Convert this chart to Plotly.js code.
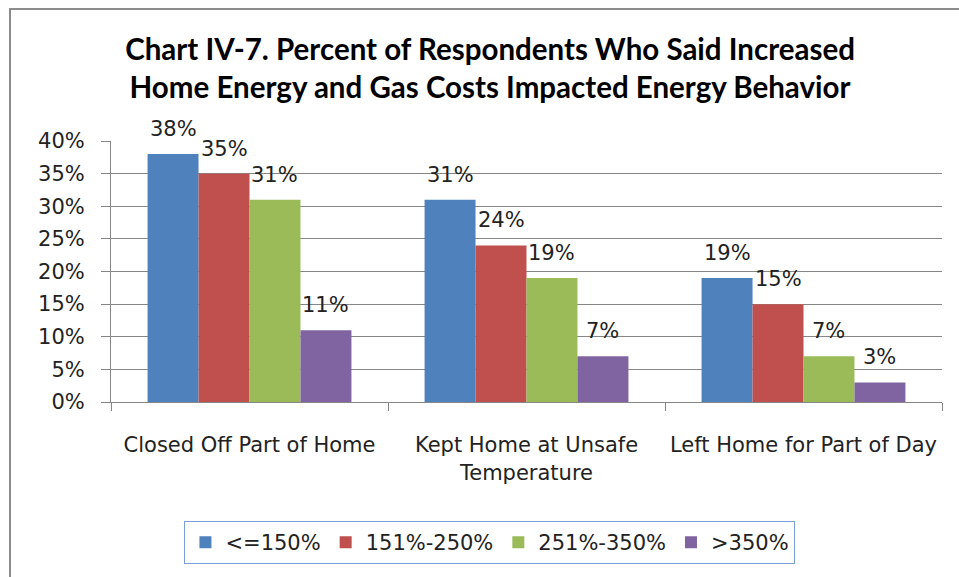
<!DOCTYPE html>
<html>
<head>
<meta charset="utf-8">
<script src="https://cdn.plot.ly/plotly-3.0.1.min.js"></script>
<style>
html,body{margin:0;padding:0;background:#fff;overflow:hidden;}
#wrap{position:relative;width:959px;height:577px;overflow:hidden;}
#chart{width:959px;height:577px;}
#frame{position:absolute;left:9px;top:8px;width:980px;height:600px;border-left:2px solid #8C8C8C;border-top:2px solid #8C8C8C;pointer-events:none;}
</style>
</head>
<body>
<div id="wrap"><div id="chart"></div><div id="frame"></div></div>
<script>
const categories = ["Closed Off Part of Home", "Kept Home at Unsafe<br>Temperature", "Left Home for Part of Day"];
const seriesNames = ["<=150%", "151%-250%", "251%-350%", ">350%"];
const seriesColors = ["#4F81BD", "#C0504D", "#9BBB59", "#8064A2"];
const le150 = [0.38, 0.31, 0.19];
const r151to250 = [0.35, 0.24, 0.15];
const r251to350 = [0.31, 0.19, 0.07];
const gt350 = [0.11, 0.07, 0.03];
const yTickVals = [0, 0.05, 0.10, 0.15, 0.20, 0.25, 0.30, 0.35, 0.40];
const yTickText = ["0%", "5%", "10%", "15%", "20%", "25%", "30%", "35%", "40%"];
const titleText = "Chart IV-7. Percent of Respondents Who Said Increased<br>Home Energy and Gas Costs Impacted Energy Behavior";

const seriesValues = [le150, r151to250, r251to350, gt350];
const FONT = "DejaVu Sans, sans-serif";

const W = 959, H = 577;
const M = {l: 111, r: 17, t: 141, b: 175};
const BARGAP = 0.264;
const plotW = W - M.l - M.r;
const barPx = plotW / categories.length * (1 - BARGAP) / seriesValues.length;

const traces = seriesValues.map((vals, i) => ({
  type: "bar",
  name: seriesNames[i],
  x: categories,
  y: vals,
  marker: {color: seriesColors[i], line: {width: 0}},
  hoverinfo: "none"
}));

const annotations = [];
seriesValues.forEach((vals, i) => {
  vals.forEach((v, j) => {
    annotations.push({
      x: categories[j], y: v, xref: "x", yref: "y",
      text: Math.round(v * 100) + "%",
      showarrow: false,
      xanchor: "center", yanchor: "bottom",
      xshift: (i - (seriesValues.length - 1) / 2) * barPx,
      yshift: 11,
      font: {family: FONT, size: 21, color: "#222"}
    });
  });
});

const layout = {
  width: W,
  height: H,
  paper_bgcolor: "#fff",
  plot_bgcolor: "#fff",
  margin: M,
  barmode: "group",
  bargap: BARGAP,
  bargroupgap: 0,
  title: {
    text: titleText,
    font: {family: "Lato, sans-serif", size: 29.5, color: "#000", weight: "bold"},
    x: 0.511, xanchor: "center", xref: "container",
    y: 0.896, yanchor: "top", yref: "container"
  },
  xaxis: {
    type: "category",
    showline: true, linecolor: "#868686", linewidth: 1,
    ticks: "outside", tickson: "boundaries", ticklen: 8, tickcolor: "#868686",
    tickfont: {family: FONT, size: 21, color: "#222"},
    ticklabelstandoff: 24,
    showgrid: false, zeroline: false, fixedrange: true
  },
  yaxis: {
    range: [0, 0.4],
    tickvals: yTickVals, ticktext: yTickText,
    showline: true, linecolor: "#868686", linewidth: 1,
    ticks: "outside", ticklen: 9, tickcolor: "#868686",
    tickfont: {family: FONT, size: 21, color: "#222"},
    ticklabelstandoff: 12,
    showgrid: true, gridcolor: "#868686", gridwidth: 1,
    zeroline: false, fixedrange: true
  },
  showlegend: true,
  legend: {
    orientation: "h",
    x: 0.456, xanchor: "center",
    y: -0.456, yanchor: "top",
    bordercolor: "#7A9FD8", borderwidth: 1,
    bgcolor: "#fff",
    font: {family: FONT, size: 21, color: "#222"},
    itemwidth: 30,
    traceorder: "normal"
  },
  annotations: annotations
};

Plotly.newPlot("chart", traces, layout, {staticPlot: true, displayModeBar: false});
</script>
</body>
</html>
